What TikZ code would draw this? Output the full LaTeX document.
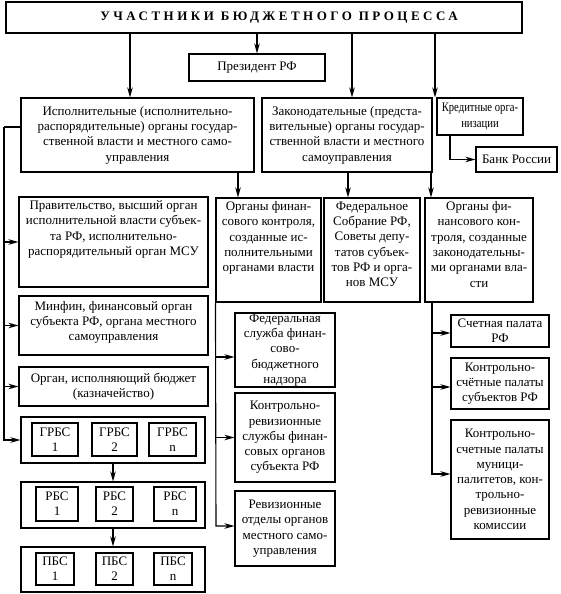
\documentclass[tikz,border=0pt]{standalone}
\usepackage{fontspec}
\setmainfont{Liberation Serif}
\usetikzlibrary{arrows.meta,fit,calc}
\newcommand\mkbox[5]{\path (#2,#3) coordinate (#1-a) (#4,#5) coordinate (#1-b); \node[box,fit=(#1-a)(#1-b)] (#1) {};}
\begin{document}
\begin{tikzpicture}[x=1pt,y=-1pt,
 box/.style={draw,line width=1.1pt,inner sep=0pt},
 txt/.style={font=\fontsize{13}{15.3}\selectfont,align=center,inner sep=0pt},
 arr/.style={line width=1.1pt,-{Stealth[length=10pt,width=5.5pt,inset=3pt]}},
 ln/.style={line width=1.1pt}]
\useasboundingbox (0,0) rectangle (561,594);
% boxes
\mkbox{title}{6}{2}{522}{33}
\mkbox{prez}{189}{54}{325}{81}
\mkbox{isp}{21}{98}{254}{172}
\mkbox{zak}{262}{98}{432}{172}
\mkbox{kred}{437}{98}{523}{135}
\mkbox{bank}{476}{147}{557}{172}
\mkbox{prav}{19}{197}{208}{287}
\mkbox{minf}{19}{296}{208}{355}
\mkbox{kazn}{19}{367}{208}{406}
\mkbox{grbs}{21}{417}{205}{463}
\mkbox{rbs}{21}{482}{205}{528}
\mkbox{pbs}{21}{547}{205}{592}
\mkbox{g1}{32}{423}{78}{456}
\mkbox{g2}{92}{423}{137}{456}
\mkbox{gn}{149}{423}{196}{456}
\mkbox{r1}{36}{487}{78}{521}
\mkbox{r2}{96}{487}{133}{521}
\mkbox{rn}{154}{487}{196}{521}
\mkbox{p1}{36}{553}{74}{585}
\mkbox{p2}{96}{553}{133}{585}
\mkbox{pn}{154}{553}{192}{585}
\mkbox{ofk}{216}{198}{321}{302}
\mkbox{fs}{324}{198}{420}{302}
\mkbox{ofz}{425}{198}{533}{302}
\mkbox{fed}{235}{313}{335}{387}
\mkbox{krs}{235}{393}{335}{482}
\mkbox{rev}{235}{491}{335}{566}
\mkbox{sp}{451}{315}{549}{347}
\mkbox{ksp}{451}{358}{549}{409}
\mkbox{ksm}{451}{420}{549}{539}
% texts
\node[font=\fontsize{13}{15}\selectfont\bfseries\addfontfeature{LetterSpace=27}] (titleT) at (279,18) {УЧАСТНИКИ БЮДЖЕТНОГО ПРОЦЕССА};
\node[txt] (prezT) at (prez) {Президент РФ};
\node[txt] (ispT) at (isp) {Исполнительные (исполнительно-\\распорядительные) органы государ-\\ственной власти и местного само-\\управления};
\node[txt] (zakT) at (zak) {Законодательные (предста-\\вительные) органы государ-\\ственной власти и местного\\самоуправления};
\node[txt,font=\fontsize{13}{16}\selectfont\addfontfeature{FakeStretch=0.82}] (kredT) at (kred) {Кредитные орга-\\низации};
\node[txt] (bankT) at (bank) {Банк России};
\node[txt,anchor=north] (pravT) at ([yshift=-4pt]prav.north) {Правительство, высший орган\\исполнительной власти субъек-\\та РФ, исполнительно-\\распорядительный орган МСУ};
\node[txt] (minfT) at ([yshift=3pt]minf.center) {Минфин, финансовый орган\\субъекта РФ, органа местного\\самоуправления};
\node[txt] (kaznT) at (kazn) {Орган, исполняющий бюджет\\(казначейство)};
\node[txt] at (g1) (g1T) {ГРБС\\1};
\node[txt] at (g2) (g2T) {ГРБС\\2};
\node[txt] at (gn) (gnT) {ГРБС\\n};
\node[txt] at (r1) (r1T) {РБС\\1};
\node[txt] at (r2) (r2T) {РБС\\2};
\node[txt] at (rn) (rnT) {РБС\\n};
\node[txt] at (p1) (p1T) {ПБС\\1};
\node[txt] at (p2) (p2T) {ПБС\\2};
\node[txt] at (pn) (pnT) {ПБС\\n};
\node[txt,anchor=north] (ofkT) at ([yshift=-4pt]ofk.north) {Органы финан-\\сового контроля,\\созданные ис-\\полнительными\\органами власти};
\node[txt,anchor=north] (fsT) at ([yshift=-4pt]fs.north) {Федеральное\\Собрание РФ,\\Советы депу-\\татов субъек-\\тов РФ и орга-\\нов МСУ};
\node[txt,anchor=north] (ofzT) at ([yshift=-4pt]ofz.north) {Органы фи-\\нансового кон-\\троля, созданные\\законодательны-\\ми органами вла-\\сти};
\node[txt] (fedT) at (fed) {Федеральная\\служба финан-\\сово-\\бюджетного\\надзора};
\node[txt] (krsT) at (krs) {Контрольно-\\ревизионные\\службы финан-\\совых органов\\субъекта РФ};
\node[txt] (revT) at (rev) {Ревизионные\\отделы органов\\местного само-\\управления};
\node[txt] (spT) at (sp) {Счетная палата\\РФ};
\node[txt] (kspT) at (ksp) {Контрольно-\\счётные палаты\\субъектов РФ};
\node[txt] (ksmT) at (ksm) {Контрольно-\\счетные палаты\\муници-\\палитетов, кон-\\трольно-\\ревизионные\\комиссии};
% connectors
\coordinate (c1) at (130,0);
\coordinate (c3) at (352,0);
\coordinate (c4) at (435,0);
\draw[arr] (c1 |- title.south) -- (c1 |- isp.north);
\draw[arr] (title.south -| prez) -- (prez);
\draw[arr] (c3 |- title.south) -- (c3 |- zak.north);
\draw[arr] (c4 |- title.south) -- (c4 |- kred.north);
\coordinate (kb) at (450,0);
\draw[arr] (kb |- kred.south) |- (bank.west);
\coordinate (L) at (4,127);
\draw[ln] (isp.west |- L) -- (L);
\draw[arr] (L) |- (grbs.west);
\draw[arr] (L |- prav.west) -- (prav.west);
\draw[arr] (L |- minf.west) -- (minf.west);
\draw[arr] (L |- kazn.west) -- (kazn.west);
\coordinate (ia) at (238,0);
\draw[arr] (ia |- isp.south) -- (ia |- ofk.north);
\coordinate (za) at (348,0);
\coordinate (zb) at (431,0);
\draw[arr] (za |- zak.south) -- (za |- fs.north);
\draw[arr] (zb |- zak.south) -- (zb |- ofz.north);
\draw[arr] (grbs.south) -- (rbs.north);
\draw[arr] (rbs.south) -- (pbs.north);
% middle rail
\coordinate (M) at (216,526);
\draw[arr] (ofk.south west) -- (M) -- (M -| rev.west);
\draw[arr] (M |- 0,357) -- (fed.west |- 0,357);
\draw[arr] (M |- krs.west) -- (krs.west);
% right rail
\coordinate (R) at (432,474);
\draw[arr] (R |- ofz.south) -- (R) -- (R -| ksm.west);
\draw[arr] (R |- 0,333) -- (sp.west |- 0,333);
\draw[arr] (R |- 0,387) -- (ksp.west |- 0,387);
\end{tikzpicture}
\end{document}
